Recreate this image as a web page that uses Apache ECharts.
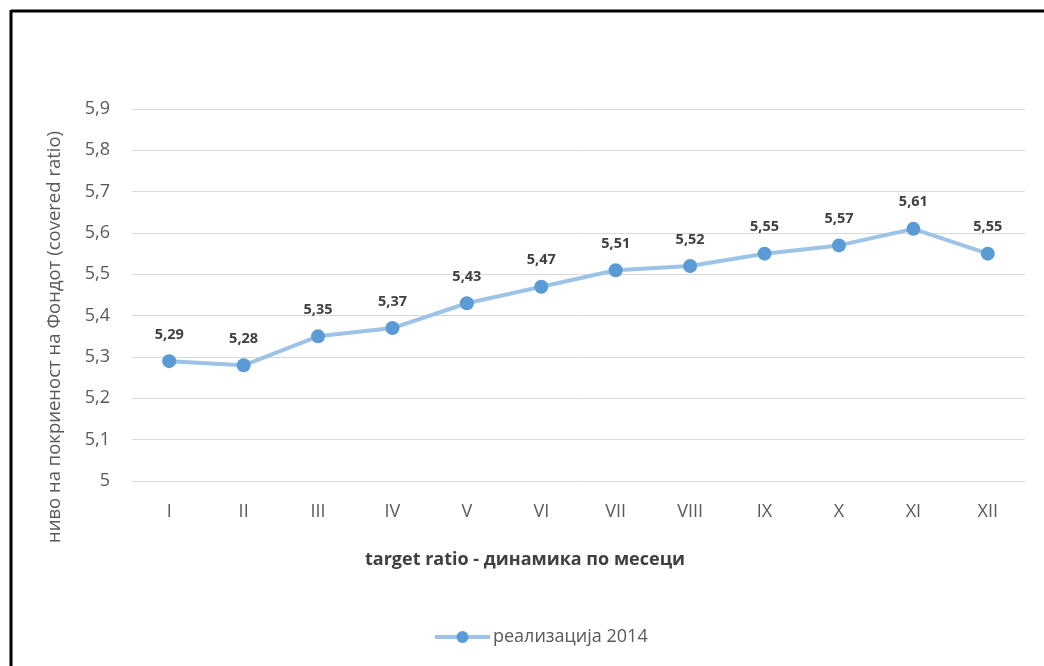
<!DOCTYPE html>
<html><head><meta charset="utf-8">
<script src="https://cdn.jsdelivr.net/npm/echarts@6/dist/echarts.min.js"></script>
<style>html,body{margin:0;padding:0;background:#fff}#c{width:1044px;height:666px}</style>
</head><body><div id="c"></div>
<script>
var categories = ['I','II','III','IV','V','VI','VII','VIII','IX','X','XI','XII'];
var values = [5.29,5.28,5.35,5.37,5.43,5.47,5.51,5.52,5.55,5.57,5.61,5.55];
var seriesName = 'реализација 2014';
var yName = 'ниво на покриеност на Фондот (covered ratio)';
var xName = 'target ratio - динамика по месеци';
var fmt = function(v){ return String(v).replace('.', ','); };
var chart = echarts.init(document.getElementById('c'));
var font = '"Open Sans", "Noto Sans", sans-serif';
chart.setOption({
  animation:false,
  textStyle:{fontFamily:font},
  graphic:[
    {type:'line', shape:{x1:11, y1:11, x2:1044, y2:11}, style:{stroke:'#000', lineWidth:3}},
    {type:'line', shape:{x1:11, y1:10, x2:11, y2:666}, style:{stroke:'#000', lineWidth:3}},
    {type:'text', x:55, y:337, rotation:Math.PI/2,
      style:{text:yName, fontSize:18.5, fill:'#595959', fontFamily:font, align:'center', verticalAlign:'middle'}},
    {type:'text', x:525, y:560,
      style:{text:xName, fontSize:18, fontWeight:'bold', fill:'#404040', fontFamily:font, align:'center', verticalAlign:'middle'}}
  ],
  grid:{left:132, right:19, top:109, bottom:185},
  legend:{top:623, left:428, itemWidth:55, itemHeight:15, itemGap:5,
    lineStyle:{width:4},
    textStyle:{fontSize:18, color:'#595959', fontFamily:font, padding:[0,0,0,-2]},
    data:[seriesName]},
  xAxis:{type:'category', data:categories,
    axisLine:{show:false}, axisTick:{show:false},
    axisLabel:{fontSize:18, color:'#595959', margin:22}},
  yAxis:{type:'value', min:5, max:5.9, interval:0.1,
    axisLine:{show:false}, axisTick:{show:false},
    splitLine:{lineStyle:{color:'#d9d9d9', width:1}},
    axisLabel:{fontSize:18, color:'#595959', margin:22,
      formatter:function(v){ return fmt(Math.round(v*10)/10); }}},
  series:[{name:seriesName, type:'line', data:values,
    symbol:'circle', symbolSize:14,
    lineStyle:{color:'#9dc3e6', width:4},
    itemStyle:{color:'#5b9bd5'},
    label:{show:true, position:'top', distance:12, fontSize:14.5, fontWeight:'bold', color:'#404040',
      formatter:function(p){ return fmt(p.value); }}}]
});
</script></body></html>
